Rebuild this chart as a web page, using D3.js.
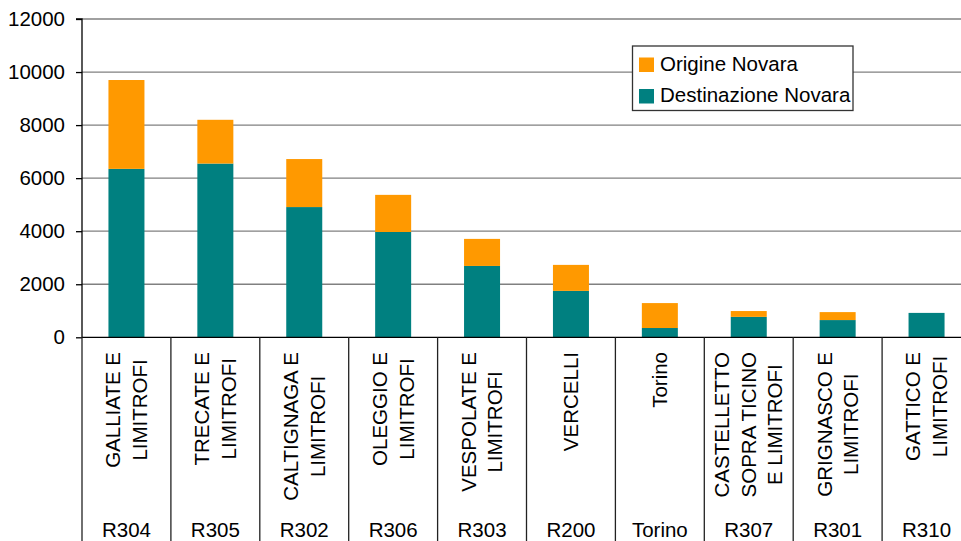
<!DOCTYPE html>
<html>
<head>
<meta charset="utf-8">
<script src="https://cdn.jsdelivr.net/npm/d3@7"></script>
<style>
  html, body { margin: 0; padding: 0; background: #fff; }
  svg { display: block; font-family: "Liberation Sans", Arial, sans-serif; }
</style>
</head>
<body>
<svg id="chart" width="961" height="541"></svg>
<script>
const codes = ["R304", "R305", "R302", "R306", "R303", "R200", "Torino", "R307", "R301", "R310"];
const names = [
  ["GALLIATE E", "LIMITROFI"],
  ["TRECATE E", "LIMITROFI"],
  ["CALTIGNAGA E", "LIMITROFI"],
  ["OLEGGIO E", "LIMITROFI"],
  ["VESPOLATE E", "LIMITROFI"],
  ["VERCELLI"],
  ["Torino"],
  ["CASTELLETTO", "SOPRA TICINO", "E LIMITROFI"],
  ["GRIGNASCO E", "LIMITROFI"],
  ["GATTICO E", "LIMITROFI"]
];
const destinazione = [6350, 6550, 4910, 3970, 2690, 1750, 350, 770, 650, 920];
const origine = [3350, 1650, 1810, 1400, 1020, 980, 940, 220, 300, 0];
const seriesNames = ["Origine Novara", "Destinazione Novara"];
const yTicks = [0, 2000, 4000, 6000, 8000, 10000, 12000];
const colors = { dest: "#008080", orig: "#FF9900" };

const svg = d3.select("#chart");
const mLeft = 82, mRight = 971, mTop = 19, mBottom = 337.3;
const fs = 20.5;

const x = d3.scaleBand().domain(codes).range([mLeft, mRight]).padding(0);
const y = d3.scaleLinear().domain([0, 12000]).range([mBottom, mTop]);
const bw = x.bandwidth() * 0.405;

// gridlines
svg.append("g").selectAll("line").data(yTicks.filter(d => d > 0)).join("line")
  .attr("x1", mLeft).attr("x2", mRight)
  .attr("y1", d => y(d)).attr("y2", d => y(d))
  .attr("stroke", "#808080").attr("stroke-width", 1.3);

// stacked data
const rows = codes.map((c, i) => ({ code: c, dest: destinazione[i], orig: origine[i] }));
const stack = d3.stack().keys(["dest", "orig"])(rows);
svg.append("g").selectAll("g").data(stack).join("g")
  .attr("fill", d => colors[d.key])
  .selectAll("rect").data(d => d).join("rect")
  .attr("x", d => x(d.data.code) + (x.bandwidth() - bw) / 2)
  .attr("width", bw)
  .attr("y", d => y(d[1]))
  .attr("height", d => y(d[0]) - y(d[1]));

// y axis
const yAxis = d3.axisLeft(y).tickValues(yTicks).tickSize(6).tickPadding(11).tickFormat(d3.format("d"));
const ya = svg.append("g").attr("transform", `translate(${mLeft},0)`).call(yAxis);
ya.select(".domain").attr("stroke", "#000").attr("stroke-width", 1.3).attr("d", `M-6,${mTop}H0V${mBottom}`);
ya.selectAll(".tick line").attr("stroke", "#000").attr("stroke-width", 1.3);
ya.selectAll(".tick text").attr("font-size", fs).attr("fill", "#000")
  .attr("font-family", "'Liberation Sans', Arial, sans-serif");

// x axis baseline
svg.append("line").attr("x1", mLeft).attr("x2", mRight).attr("y1", mBottom).attr("y2", mBottom)
  .attr("stroke", "#000").attr("stroke-width", 1.3);

// separators
const seps = codes.map(c => x(c)).concat([mRight]);
svg.append("g").selectAll("line").data(seps).join("line")
  .attr("x1", d => d).attr("x2", d => d)
  .attr("y1", mBottom).attr("y2", 541)
  .attr("stroke", "#222").attr("stroke-width", 1.3);

// rotated name labels
const lineH = 26.5;
const labelTop = 352;
codes.forEach((c, i) => {
  const lines = names[i];
  const cx = x(c) + x.bandwidth() / 2;
  const g = svg.append("g");
  const texts = lines.map(l => g.append("text").text(l).attr("font-size", fs).attr("fill", "#000"));
  const maxLen = d3.max(texts, t => t.node().getComputedTextLength());
  const n = lines.length;
  texts.forEach((t, k) => {
    const lx = cx + (k - (n - 1) / 2) * lineH;
    const ly = labelTop + maxLen / 2;
    t.attr("text-anchor", "middle")
      .attr("dy", "0.35em")
      .attr("transform", `translate(${lx},${ly}) rotate(-90)`);
  });
});

// code labels
svg.append("g").selectAll("text").data(codes).join("text")
  .attr("x", d => x(d) + x.bandwidth() / 2)
  .attr("y", 537)
  .attr("text-anchor", "middle")
  .attr("font-size", fs).attr("fill", "#000")
  .text(d => d);

// legend
const lg = svg.append("g");
lg.append("rect").attr("x", 632.5).attr("y", 46).attr("width", 220.5).attr("height", 64.5)
  .attr("fill", "#fff").attr("stroke", "#333").attr("stroke-width", 1.3);
const legendItems = [
  { name: seriesNames[0], color: colors.orig, y: 57.5 },
  { name: seriesNames[1], color: colors.dest, y: 89 }
];
legendItems.forEach(it => {
  lg.append("rect").attr("x", 639).attr("y", it.y).attr("width", 15).attr("height", 14.5).attr("fill", it.color);
  lg.append("text").attr("x", 660).attr("y", it.y + 13.3).attr("font-size", fs).attr("fill", "#000").text(it.name);
});
</script>
</body>
</html>
